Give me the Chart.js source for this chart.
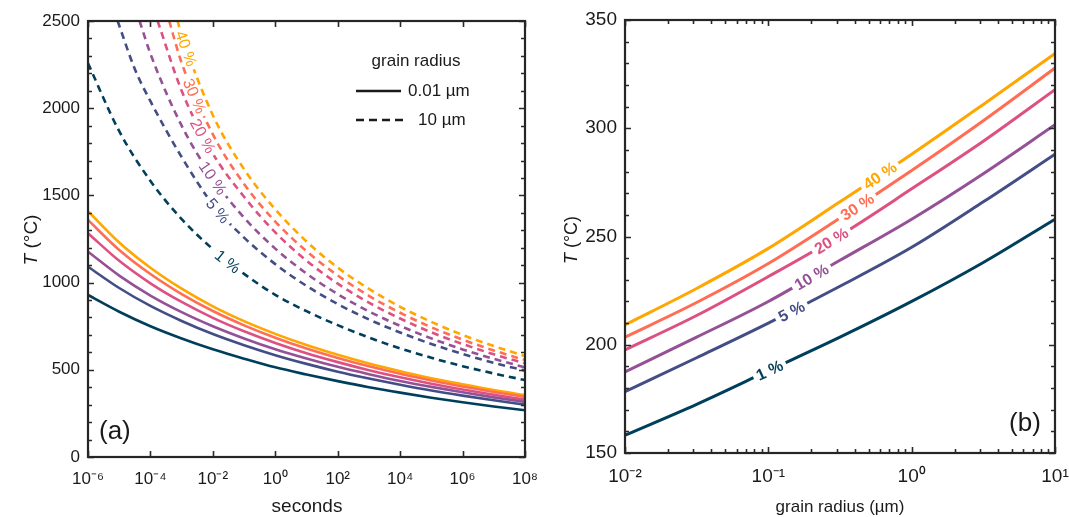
<!DOCTYPE html>
<html><head><meta charset="utf-8">
<script src="https://cdn.jsdelivr.net/npm/chart.js@4.4.1/dist/chart.umd.min.js"></script>
<style>
html,body{margin:0;padding:0;background:#fff;}
#wrap{position:relative;width:1069px;height:517px;overflow:hidden;}
#ca{position:absolute;left:0;top:0;}
#cb{position:absolute;left:545px;top:0;}
</style></head><body>
<div id="wrap"><canvas id="ca" width="545" height="517"></canvas><canvas id="cb" width="524" height="517"></canvas></div>
<script>
// ---------- shared ----------
const levels = ['1 %','5 %','10 %','20 %','30 %','40 %'];
const colors = ['#003f5c','#444e86','#955196','#dd5182','#ff6e54','#ffa600'];

// ---------- panel (a): T vs seconds ----------
const seconds = [1e-6,1e-5,1e-4,1e-3,1e-2,1e-1,1e0,1e1,1e2,1e3,1e4,1e5,1e6,1e7,1e8];
// solid: grain radius 0.01 µm
const solid1  = [929,833,750,680,618,564,514,473,435,400,369,340,314,290,268];
const solid5  = [1091,969,866,780,705,641,584,534,489,450,414,381,352,325,300];
const solid10 = [1177,1040,926,831,750,680,618,565,517,475,436,402,371,342,316];
const solid20 = [1283,1125,996,889,798,721,654,595,544,498,457,420,387,357,329];
const solid30 = [1359,1187,1049,934,837,755,684,622,568,520,477,439,404,373,344];
const solid40 = [1410,1230,1085,965,864,779,706,642,586,536,492,452,417,384,355];
// dashed: grain radius 10 µm (each starts where it enters the frame)
const dashed1Time  = [1e-6,1e-5,1e-4,1e-3,1e-2,1e-1,1e0,1e1,1e2,1e3,1e4,1e5,1e6,1e7,1e8];
const dashed1      = [2257,1868,1583,1364,1192,1050,930,836,756,685,623,569,521,479,441];
const dashed5Time  = [8.9e-6,3.2e-5,1e-4,1e-3,1e-2,1e-1,1e0,1e1,1e2,1e3,1e4,1e5,1e6,1e7,1e8];
const dashed5      = [2500,2222,2040,1720,1448,1258,1106,981,877,789,714,648,591,540,495];
const dashed10Time = [4.5e-5,1e-4,1e-3,1e-2,1e-1,1e0,1e1,1e2,1e3,1e4,1e5,1e6,1e7,1e8];
const dashed10     = [2500,2312,1900,1599,1372,1195,1052,934,835,752,680,617,563,514];
const dashed20Time = [1.7e-4,1e-3,1e-2,1e-1,1e0,1e1,1e2,1e3,1e4,1e5,1e6,1e7,1e8];
const dashed20     = [2500,2100,1740,1492,1288,1126,994,885,794,715,648,589,537];
const dashed30Time = [4.0e-4,1e-3,1e-2,1e-1,1e0,1e1,1e2,1e3,1e4,1e5,1e6,1e7,1e8];
const dashed30     = [2500,2260,1850,1565,1350,1180,1041,924,827,744,673,611,556];
const dashed40Time = [7.4e-4,1e-3,1e-2,1e-1,1e0,1e1,1e2,1e3,1e4,1e5,1e6,1e7,1e8];
const dashed40     = [2500,2420,1960,1650,1420,1236,1086,964,861,775,700,636,579];
const secTicks = [1e-6,1e-4,1e-2,1e0,1e2,1e4,1e6,1e8];
const secTickLabels = ['10\u207B\u2076','10\u207B\u2074','10\u207B\u00B2','10\u2070','10\u00B2','10\u2074','10\u2076','10\u2078'];
const tTicksA = [0,500,1000,1500,2000,2500];
const labelTimeA = [3.0e-2,1.45e-2,1.0e-2,4.8e-3,2.6e-3,1.4e-3]; // where contour labels sit on dashed lines

// ---------- panel (b): T vs grain radius ----------
const radius = [0.01,0.0316,0.1,0.316,1,3.16,10];
const r1  = [158.2,172.5,188,203.5,220,238,258];
const r5  = [178.3,194,210,227,245,266,288];
const r10 = [187.5,203.5,220,239,258,279,301.6];
const r20 = [197.6,213.5,231.5,250.5,272,294,317.8];
const r30 = [203.5,219.5,237.5,258.5,280.5,303.5,327.8];
const r40 = [209.2,226,244.5,266,288,311,334.5];
const radTicks = [0.01,0.1,1,10];
const radTickLabels = ['10\u207B\u00B2','10\u207B\u00B9','10\u2070','10\u00B9'];
const tTicksB = [150,200,250,300,350];
const labelRadB = [0.102,0.145,0.2,0.275,0.417,0.6];

const FONT = "'Liberation Sans', Arial, Helvetica, sans-serif";
const INK = '#1a1a1a';

function pts(xs, ys){ return xs.map((x,i)=>({x:x, y:ys[i]})); }

function curveAt(meta, xpix){
  const p = meta.data;
  for (let i=0;i<p.length-1;i++){
    const a=p[i], b=p[i+1];
    if (xpix>=a.x && xpix<=b.x){
      const c1x=a.cp2x??a.x, c1y=a.cp2y??a.y, c2x=b.cp1x??b.x, c2y=b.cp1y??b.y;
      const bez=(t,p0,p1,p2,p3)=>{const u=1-t;return u*u*u*p0+3*u*u*t*p1+3*u*t*t*p2+t*t*t*p3;};
      let lo=0,hi=1;
      for(let k=0;k<40;k++){const m=(lo+hi)/2; if(bez(m,a.x,c1x,c2x,b.x)<xpix) lo=m; else hi=m;}
      return bez((lo+hi)/2,a.y,c1y,c2y,b.y);
    }
  }
  return null;
}

function contourLabels(chart, dsIdx, xs, fontSpec, boxH){
  const ctx=chart.ctx, xs_=chart.scales.x;
  ctx.save();
  ctx.font = fontSpec;
  dsIdx.forEach((di,k)=>{
    const meta = chart.getDatasetMeta(di);
    const px = xs_.getPixelForValue(xs[k]);
    const py = curveAt(meta, px);
    const y1 = curveAt(meta, px-3), y2 = curveAt(meta, px+3);
    if (py==null||y1==null||y2==null) return;
    const ang = Math.atan2(y2-y1, 6);
    const txt = levels[k];
    const w = ctx.measureText(txt).width;
    ctx.save();
    ctx.translate(px,py); ctx.rotate(ang);
    ctx.fillStyle='#fff';
    ctx.fillRect(-w/2-4,-boxH/2,w+8,boxH);
    ctx.fillStyle=colors[k];
    ctx.textAlign='center'; ctx.textBaseline='middle';
    ctx.fillText(txt,0,1);
    ctx.restore();
  });
  ctx.restore();
}

function frameAndTicks(chart, xMajor, xMinor, yMajor, yMinor, majLen, minLen){
  const {ctx, chartArea:{left,right,top,bottom}, scales:{x,y}} = chart;
  ctx.save();
  ctx.strokeStyle='#2a2a2a'; ctx.lineWidth=1.6;
  ctx.beginPath();
  const tick=(vals,len,axis)=>vals.forEach(v=>{
    if(axis==='x'){const p=Math.round(x.getPixelForValue(v))+0.5;
      ctx.moveTo(p,bottom);ctx.lineTo(p,bottom-len);ctx.moveTo(p,top);ctx.lineTo(p,top+len);}
    else{const p=Math.round(y.getPixelForValue(v))+0.5;
      ctx.moveTo(left,p);ctx.lineTo(left+len,p);ctx.moveTo(right,p);ctx.lineTo(right-len,p);}
  });
  tick(xMajor,majLen,'x'); tick(xMinor,minLen,'x');
  tick(yMajor,majLen,'y'); tick(yMinor,minLen,'y');
  ctx.stroke();
  ctx.lineWidth=2.2; ctx.strokeStyle='#262626';
  ctx.strokeRect(left,top,right-left,bottom-top);
  ctx.restore();
}

function yTitle(ctx, cx, cy, size){
  ctx.save();
  ctx.translate(cx,cy); ctx.rotate(-Math.PI/2);
  ctx.fillStyle=INK; ctx.textBaseline='middle';
  ctx.font = 'italic '+size+'px '+FONT;
  const a='T', b=' (\u00B0C)';
  const wa=ctx.measureText(a).width;
  ctx.font = size+'px '+FONT;
  const wb=ctx.measureText(b).width;
  const x0=-(wa+wb)/2;
  ctx.font = 'italic '+size+'px '+FONT; ctx.fillText(a,x0,0);
  ctx.font = size+'px '+FONT; ctx.fillText(b,x0+wa,0);
  ctx.restore();
}

function baseScales(xMin,xMax,xTicks,xLabels,yMin,yMax,yTicks,yWidth,xHeight,tickSize,xPad){
  return {
    x:{type:'logarithmic',min:xMin,max:xMax,
       grid:{display:false,drawTicks:false},border:{display:false},
       afterBuildTicks:(s)=>{s.ticks=xTicks.map(v=>({value:v,major:true}));},
       afterFit:(s)=>{s.height=xHeight;s.paddingLeft=0;s.paddingRight=0;},
       ticks:{autoSkip:false,maxRotation:0,minRotation:0,padding:xPad,color:INK,
              font:{family:FONT,size:tickSize},
              callback:(v)=>{const i=xTicks.findIndex(t=>Math.abs(Math.log10(t)-Math.log10(v))<1e-6);return i>=0?xLabels[i]:'';}}},
    y:{type:'linear',min:yMin,max:yMax,
       grid:{display:false,drawTicks:false},border:{display:false},
       afterBuildTicks:(s)=>{s.ticks=yTicks.map(v=>({value:v}));},
       afterFit:(s)=>{s.width=yWidth;s.paddingTop=0;s.paddingBottom=0;},
       ticks:{autoSkip:false,padding:8,color:INK,font:{family:FONT,size:tickSize},
              callback:(v)=>String(v)}}
  };
}

// ---------- chart (a) ----------
const solidA = [solid1,solid5,solid10,solid20,solid30,solid40];
const dashA = [[dashed1Time,dashed1],[dashed5Time,dashed5],[dashed10Time,dashed10],[dashed20Time,dashed20],[dashed30Time,dashed30],[dashed40Time,dashed40]];
const dsA = [];
solidA.forEach((s,k)=>dsA.push({label:levels[k]+' 0.01 \u00B5m',data:pts(seconds,s),borderColor:colors[k],borderWidth:2.6,pointRadius:0,cubicInterpolationMode:'monotone',fill:false}));
dashA.forEach((d,k)=>dsA.push({label:levels[k]+' 10 \u00B5m',data:pts(d[0],d[1]),borderColor:colors[k],borderWidth:2.6,borderDash:[7,5],pointRadius:0,cubicInterpolationMode:'monotone',fill:false}));

const pluginA = {
  id:'decorA',
  afterDatasetsDraw(chart){
    contourLabels(chart,[6,7,8,9,10,11],labelTimeA,'16px '+FONT,13);
  },
  afterDraw(chart){
    const ctx=chart.ctx;
    const yMinor=[]; for(let v=100;v<2500;v+=100) if(v%500) yMinor.push(v);
    frameAndTicks(chart,secTicks,[],tTicksA,yMinor,6,4);
    yTitle(ctx,32,240,19);
    ctx.save(); ctx.fillStyle=INK; ctx.textAlign='center'; ctx.textBaseline='middle';
    ctx.font='19px '+FONT; ctx.fillText('seconds',307,507);
    // legend
    ctx.font='17px '+FONT; ctx.fillText('grain radius',416,61);
    ctx.textAlign='left';
    ctx.fillText('0.01 \u00B5m',408,91);
    ctx.fillText('10 \u00B5m',418,120);
    ctx.strokeStyle=INK; ctx.lineWidth=2.6;
    ctx.beginPath(); ctx.moveTo(356,91); ctx.lineTo(401,91); ctx.stroke();
    ctx.setLineDash([8,5]); ctx.beginPath(); ctx.moveTo(356,120); ctx.lineTo(403,120); ctx.stroke();
    ctx.setLineDash([]);
    ctx.font='26px '+FONT; ctx.fillText('(a)',99,432);
    ctx.restore();
  }
};

new Chart(document.getElementById('ca'),{
  type:'line',
  data:{datasets:dsA},
  options:{responsive:false,animation:false,
    layout:{padding:{top:21,right:20,left:0,bottom:0}},
    plugins:{legend:{display:false},tooltip:{enabled:false}},
    scales:baseScales(1e-6,1e8,secTicks,secTickLabels,0,2500,tTicksA,88,60,17,12)},
  plugins:[pluginA]
});

// ---------- chart (b) ----------
const seriesB=[r1,r5,r10,r20,r30,r40];
const dsB = seriesB.map((s,k)=>({label:levels[k],data:pts(radius,s),borderColor:colors[k],borderWidth:3,pointRadius:0,cubicInterpolationMode:'monotone',fill:false}));
const pluginB = {
  id:'decorB',
  afterDatasetsDraw(chart){
    contourLabels(chart,[0,1,2,3,4,5],labelRadB,'bold 16px '+FONT,13);
  },
  afterDraw(chart){
    const ctx=chart.ctx;
    const xMinor=[]; [0.01,0.1,1].forEach(d=>{for(let m=2;m<=9;m++) xMinor.push(d*m);});
    const yMinor=[]; for(let v=160;v<350;v+=10) if(v%50) yMinor.push(v);
    frameAndTicks(chart,radTicks,xMinor,tTicksB,yMinor,6,4);
    yTitle(ctx,27,240,18);
    ctx.save(); ctx.fillStyle=INK; ctx.textAlign='center'; ctx.textBaseline='middle';
    ctx.font='17px '+FONT; ctx.fillText('grain radius (\u00B5m)',295,507);
    ctx.font='26px '+FONT; ctx.fillText('(b)',480,424);
    ctx.restore();
  }
};
new Chart(document.getElementById('cb'),{
  type:'line',
  data:{datasets:dsB},
  options:{responsive:false,animation:false,
    layout:{padding:{top:20,right:14,left:0,bottom:0}},
    plugins:{legend:{display:false},tooltip:{enabled:false}},
    scales:baseScales(0.01,10,radTicks,radTickLabels,150,350,tTicksB,80,64,19,12)},
  plugins:[pluginB]
});
</script>
</body></html>
